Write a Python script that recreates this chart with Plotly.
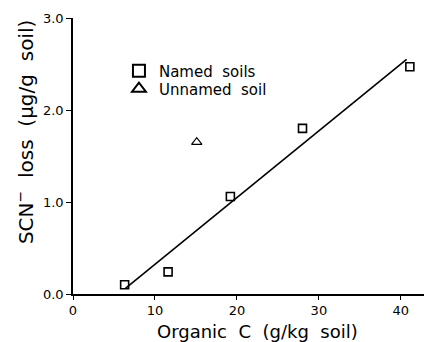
import plotly.graph_objects as go

# Data
named_x = [6.3, 11.6, 19.2, 28.0, 41.1]
named_y = [0.10, 0.24, 1.06, 1.80, 2.47]
unnamed_x = [15.1]
unnamed_y = [1.65]
fit_x = [6.4, 40.7]
fit_y = [0.06, 2.55]

x_ticks = [0, 10, 20, 30, 40]
y_ticks = [0.0, 1.0, 2.0, 3.0]
y_ticklabels = ["0.0", "1.0", "2.0", "3.0"]

FONT = "DejaVu Sans"
SP = "\u00a0\u00a0"

fig = go.Figure()
fig.add_trace(go.Scatter(
    x=named_x, y=named_y, mode="markers", name="Named" + SP + "soils",
    legend="legend",
    marker=dict(symbol="square-open", size=8, color="black", line=dict(width=1.6)),
))
fig.add_trace(go.Scatter(
    x=unnamed_x, y=unnamed_y, mode="markers", name="Unnamed" + SP + "soil",
    legend="legend2",
    marker=dict(symbol="triangle-up-open", size=9, color="black", line=dict(width=1.2)),
))
fig.add_trace(go.Scatter(
    x=fit_x, y=fit_y, mode="lines", showlegend=False,
    line=dict(color="black", width=1.6),
))

leg_common = dict(xanchor="left", yanchor="middle", bgcolor="rgba(0,0,0,0)",
                  font=dict(size=15, family=FONT), itemsizing="constant",
                  borderwidth=0)

fig.update_layout(
    width=424, height=334,
    margin=dict(l=65, r=0, t=10, b=48),
    paper_bgcolor="white", plot_bgcolor="white",
    font=dict(family=FONT, color="black", size=13),
    showlegend=True,
    legend=dict(x=0.128, y=(294 - 71) / 276, **leg_common),
    legend2=dict(x=0.128, y=(294 - 89) / 276, **leg_common),
    xaxis=dict(
        range=[0, 43.8], tickvals=x_ticks, ticks="outside", ticklen=4,
        tickwidth=1.2, tickcolor="black", showline=True, linecolor="black",
        linewidth=1.5, showgrid=False, zeroline=False,
        tickfont=dict(size=13, family=FONT),
    ),
    yaxis=dict(
        range=[0, 3.0], tickvals=y_ticks, ticktext=y_ticklabels, ticks="outside",
        ticklen=5, tickwidth=1.2, tickcolor="black", showline=True,
        linecolor="black", linewidth=1.5, showgrid=False, zeroline=False,
        tickfont=dict(size=13, family=FONT),
    ),
    annotations=[
        dict(
            text="SCN<sup>−</sup>" + SP + "loss" + SP + "(μg/g" + SP + "soil)",
            textangle=-90, xref="paper", yref="paper", x=-0.135, y=0.585,
            xanchor="center", yanchor="middle", showarrow=False,
            font=dict(size=20, family=FONT),
        ),
        dict(
            text="Organic" + SP + "C" + SP + "(g/kg" + SP + "soil)",
            xref="paper", yref="paper", x=0.515, y=0, yshift=-37,
            xanchor="center", yanchor="middle", showarrow=False,
            font=dict(size=18, family=FONT),
        ),
    ],
)

fig.write_html("out.html")
